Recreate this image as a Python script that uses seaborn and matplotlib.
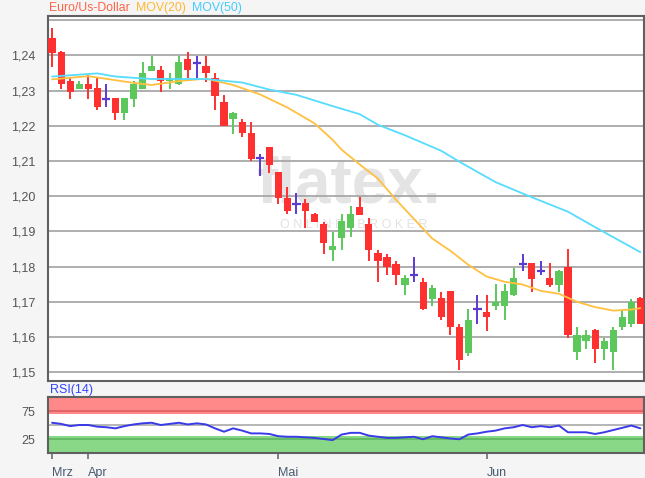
import numpy as np
import pandas as pd
import matplotlib
matplotlib.use("Agg")
import matplotlib.pyplot as plt
import seaborn as sns

# ---------------- DATA ----------------
opens = [1.2450, 1.2410, 1.2327, 1.2306, 1.2318, 1.2308, 1.2276, 1.2278, 1.2236, 1.2276,
         1.2306, 1.2357, 1.2358, 1.2327, 1.2318, 1.2389, 1.2378, 1.2369, 1.2336, 1.2267,
         1.2219, 1.2210, 1.2179, 1.2108, 1.2139, 1.2068, 1.1995, 1.1978, 1.1980, 1.1950,
         1.1920, 1.1847, 1.1882, 1.1911, 1.1970, 1.1920, 1.1839, 1.1828, 1.1807, 1.1749,
         1.1777, 1.1757, 1.1708, 1.1710, 1.1730, 1.1628, 1.1555, 1.1680, 1.1670, 1.1688,
         1.1688, 1.1719, 1.1807, 1.1809, 1.1788, 1.1768, 1.1749, 1.1798, 1.1558, 1.1588,
         1.1621, 1.1567, 1.1558, 1.1628, 1.1638, 1.1711]
highs = [1.2478, 1.2412, 1.2339, 1.2327, 1.2344, 1.2339, 1.2318, 1.2280, 1.2278, 1.2327,
         1.2380, 1.2399, 1.2369, 1.2349, 1.2399, 1.2410, 1.2399, 1.2399, 1.2349, 1.2288,
         1.2238, 1.2220, 1.2210, 1.2120, 1.2141, 1.2070, 1.2026, 1.2008, 1.1991, 1.1952,
         1.1928, 1.1899, 1.1950, 1.1972, 1.1997, 1.1939, 1.1848, 1.1837, 1.1817, 1.1776,
         1.1828, 1.1767, 1.1749, 1.1729, 1.1732, 1.1638, 1.1680, 1.1720, 1.1720, 1.1751,
         1.1751, 1.1797, 1.1837, 1.1811, 1.1817, 1.1809, 1.1790, 1.1850, 1.1628, 1.1621,
         1.1623, 1.1598, 1.1628, 1.1678, 1.1708, 1.1713]
lows = [1.2367, 1.2306, 1.2276, 1.2304, 1.2276, 1.2245, 1.2254, 1.2217, 1.2217, 1.2254,
        1.2304, 1.2357, 1.2295, 1.2306, 1.2316, 1.2335, 1.2337, 1.2325, 1.2245, 1.2199,
        1.2177, 1.2168, 1.2099, 1.2057, 1.2066, 1.1977, 1.1949, 1.1949, 1.1911, 1.1926,
        1.1835, 1.1817, 1.1847, 1.1885, 1.1946, 1.1817, 1.1757, 1.1777, 1.1749, 1.1720,
        1.1755, 1.1677, 1.1689, 1.1647, 1.1607, 1.1506, 1.1546, 1.1638, 1.1617, 1.1677,
        1.1647, 1.1717, 1.1788, 1.1729, 1.1776, 1.1741, 1.1727, 1.1597, 1.1536, 1.1567,
        1.1527, 1.1536, 1.1506, 1.1619, 1.1628, 1.1636]
closes = [1.2408, 1.2318, 1.2297, 1.2318, 1.2306, 1.2254, 1.2276, 1.2236, 1.2278, 1.2318,
          1.2349, 1.2369, 1.2327, 1.2337, 1.2380, 1.2358, 1.2378, 1.2349, 1.2286, 1.2200,
          1.2237, 1.2179, 1.2107, 1.2108, 1.2088, 1.1995, 1.1958, 1.1978, 1.1958, 1.1928,
          1.1866, 1.1859, 1.1930, 1.1950, 1.1948, 1.1847, 1.1817, 1.1798, 1.1776, 1.1768,
          1.1777, 1.1679, 1.1739, 1.1658, 1.1628, 1.1536, 1.1649, 1.1680, 1.1658, 1.1699,
          1.1730, 1.1768, 1.1807, 1.1765, 1.1788, 1.1748, 1.1788, 1.1607, 1.1607, 1.1607,
          1.1567, 1.1588, 1.1619, 1.1658, 1.1699, 1.1638]

ma20_idx = [0, 4, 9, 11, 14, 17, 20, 23, 26, 29, 31, 32, 34, 36, 38, 40, 42, 44, 46, 48,
            50, 52, 54, 56, 58, 60, 62, 64, 65]
ma20_val = [1.2332, 1.2341, 1.2322, 1.2316, 1.2327, 1.2334, 1.2316, 1.2289, 1.2252, 1.2207,
            1.2160, 1.2132, 1.2090, 1.2050, 1.1990, 1.1935, 1.1880, 1.1845, 1.1805, 1.1772,
            1.1757, 1.1749, 1.1731, 1.1723, 1.1700, 1.1685, 1.1675, 1.1678, 1.1682]

ma50_idx = [0, 5, 7, 11, 17, 21, 24, 27, 31, 34, 36, 39, 43, 45, 49, 53, 57, 60, 65]
ma50_val = [1.2340, 1.2349, 1.2340, 1.2333, 1.2333, 1.2323, 1.2303, 1.2288, 1.2256, 1.2233,
            1.2203, 1.2173, 1.2129, 1.2098, 1.2040, 1.1997, 1.1956, 1.1912, 1.1841]

rsi = [54, 52, 48, 50, 50, 47, 46, 44, 48, 51, 53, 54, 50, 52, 54, 51, 53, 51, 44, 38,
       44, 40, 35, 35, 34, 30, 29, 29, 28, 27, 25, 23, 33, 36, 36, 31, 29, 27, 27, 28,
       29, 24.5, 30, 28, 26, 24.5, 33, 35, 38, 40, 44, 46, 50, 46, 48, 46, 49, 37, 37, 37,
       34, 37, 41, 45, 49, 44]

price_ticks = [1.15, 1.16, 1.17, 1.18, 1.19, 1.20, 1.21, 1.22, 1.23, 1.24, 1.25]
month_pos = [0, 4, 25, 48]
month_labels = ["Mrz", "Apr", "Mai", "Jun"]

df = pd.DataFrame({"open": opens, "high": highs, "low": lows, "close": closes})
df["i"] = np.arange(len(df))

RED = "#ff3030"
GREEN = "#5cc85c"
DOJI = "#5a3ad0"

sns.set_style("white")
plt.rcParams["font.family"] = ["Liberation Sans", "DejaVu Sans"]

fig = plt.figure(figsize=(6.45, 4.78), dpi=100, facecolor="#f5f5f5")
ax = fig.add_axes([48 / 645, 1 - 381 / 478, 596 / 645, 365 / 478])
ax2 = fig.add_axes([48 / 645, 1 - 453 / 478, 596 / 645, 56 / 478])

# ---------------- PRICE PANEL ----------------
ax.set_facecolor("white")
for t in price_ticks:
    ax.axhline(t, color="#a8a8a8", linewidth=1.3, zorder=1)

# watermark (logo of the broker, drawn as pale text)
ax.text(0.505, 0.535, "flatex.", transform=ax.transAxes, ha="center", va="center",
        fontsize=46, fontweight="bold", color="#e4e4e4", zorder=0.5)
ax.text(0.513, 0.427, "O N L I N E    B R O K E R", transform=ax.transAxes,
        ha="center", va="center", fontsize=9, color="#e2e2e2", zorder=0.5)

colors = np.where(df["close"] > df["open"], GREEN,
                  np.where(df["close"] < df["open"], RED, DOJI))
ax.vlines(df["i"], df["low"], df["high"], colors=colors, linewidth=1.4, zorder=2)
body = (df["close"] - df["open"]).abs()
bottom = df[["open", "close"]].min(axis=1)
mask = body > 0
ax.bar(df["i"][mask], body[mask], bottom=bottom[mask], width=0.8,
       color=colors[mask], linewidth=0, zorder=3)
dj = ~mask
ax.hlines(df["close"][dj], df["i"][dj] - 0.45, df["i"][dj] + 0.45,
          colors=DOJI, linewidth=1.6, zorder=3)

sns.lineplot(x=ma20_idx, y=ma20_val, ax=ax, color="#ffc040", linewidth=1.3, zorder=4)
sns.lineplot(x=ma50_idx, y=ma50_val, ax=ax, color="#55dcff", linewidth=1.3, zorder=4)

ax.set_xlim(-0.45, 65.4)
ax.set_ylim(1.1475, 1.2512)
ax.set_yticks(price_ticks[:-1])
ax.set_yticklabels([f"{t:.2f}".replace(".", ",") for t in price_ticks[:-1]])
ax.set_xticks([])
ax.tick_params(axis="y", length=0, pad=9, labelsize=9, labelcolor="#555555")
for s in ax.spines.values():
    s.set_color("#606060")
    s.set_linewidth(1.5)
    s.set_visible(True)

fig.text(49 / 645, 1 - 8 / 478, "Euro/Us-Dollar", color="#ff6347", fontsize=8.8, va="center")
fig.text(136 / 645, 1 - 8 / 478, "MOV(20)", color="#ffb833", fontsize=8.8, va="center")
fig.text(192 / 645, 1 - 8 / 478, "MOV(50)", color="#44ccff", fontsize=8.8, va="center")

# ---------------- RSI PANEL ----------------
ax2.set_facecolor("white")
ax2.axhspan(70, 100, color="#ff8888", linewidth=0, zorder=0)
ax2.axhspan(0, 31, color="#88d888", linewidth=0, zorder=0)
ax2.axhline(75, color="#e26262", linewidth=1.3, zorder=1)
ax2.axhline(50, color="#b0b0b0", linewidth=1.3, zorder=1)
ax2.axhline(25, color="#62b862", linewidth=1.3, zorder=1)
sns.lineplot(x=df["i"], y=rsi, ax=ax2, color="#3a3ae8", linewidth=1.4, zorder=3)
ax2.set_xlim(-0.45, 65.4)
ax2.set_ylim(0, 100)
ax2.set_yticks([25, 75])
ax2.set_yticklabels(["25", "75"])
ax2.set_xticks(month_pos)
ax2.set_xticklabels(month_labels, ha="left")
ax2.set_xlabel("")
ax2.set_ylabel("")
ax2.tick_params(axis="y", length=0, pad=9, labelsize=9, labelcolor="#555555")
ax2.tick_params(axis="x", length=4, width=1.2, color="#607080", pad=6,
                labelsize=9, labelcolor="#4a5a70", direction="out", bottom=True)
for s in ax2.spines.values():
    s.set_color("#606060")
    s.set_linewidth(1.5)
    s.set_visible(True)

fig.text(50 / 645, 1 - 390 / 478, "RSI(14)", color="#3344ff", fontsize=9, va="center")

fig.savefig("out.png", dpi=100, facecolor=fig.get_facecolor())
